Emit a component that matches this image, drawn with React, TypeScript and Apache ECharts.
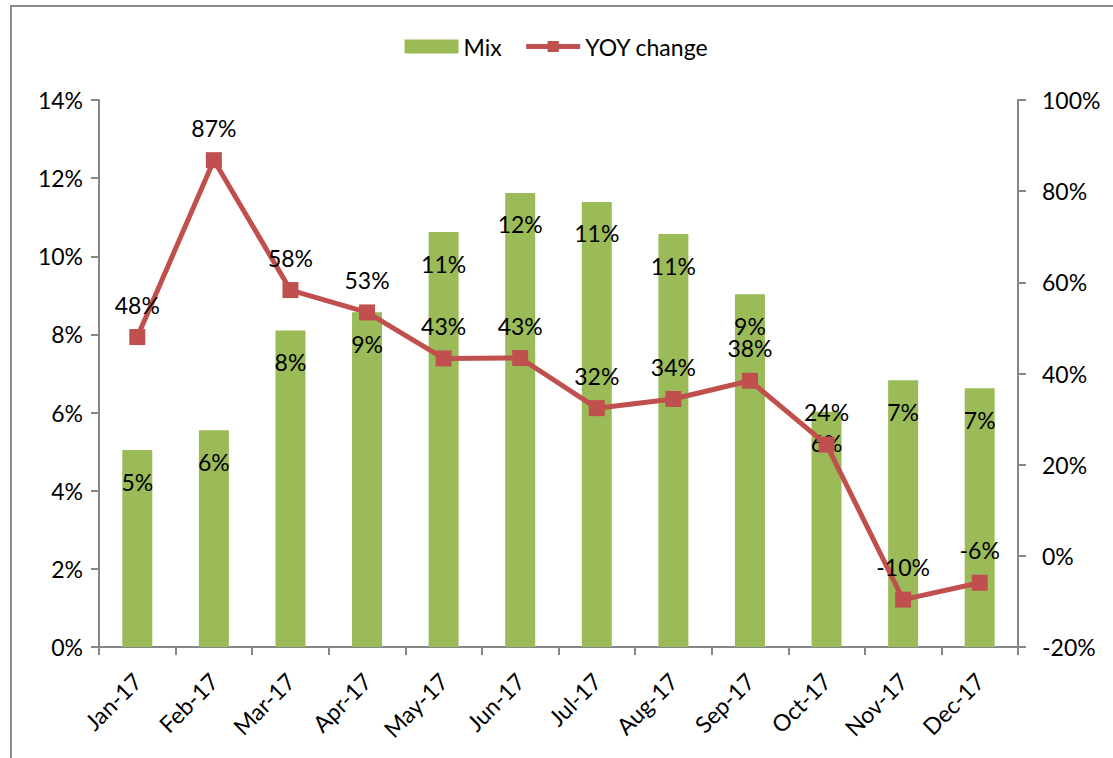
import React, { useEffect, useRef } from "react";
import * as echarts from "echarts";

const categories = ["Jan-17", "Feb-17", "Mar-17", "Apr-17", "May-17", "Jun-17", "Jul-17", "Aug-17", "Sep-17", "Oct-17", "Nov-17", "Dec-17"];
const mixValues = [5.04, 5.55, 8.1, 8.57, 10.62, 11.62, 11.39, 10.57, 9.03, 6.02, 6.83, 6.62];
const yoyValues = [48.0, 86.8, 58.3, 53.4, 43.3, 43.4, 32.4, 34.4, 38.4, 24.4, -9.6, -5.9];
const SERIES_MIX = "Mix";
const SERIES_YOY = "YOY change";

const FONT = "Lato, 'Open Sans', sans-serif";
const FS = 23;
const AXIS_COLOR = "#868686";

export default function App() {
  const ref = useRef<HTMLDivElement>(null);
  useEffect(() => {
    if (!ref.current) return;
    const chart = echarts.init(ref.current, null, { renderer: "svg" });
    const pct = (v: any) => Math.round(typeof v === "number" ? v : v.value) + "%";
    chart.setOption({
      animation: false,
      textStyle: { fontFamily: FONT, color: "#000" },
      graphic: [
        {
          type: "rect",
          shape: { x: 11, y: 6, width: 1130, height: 780 },
          style: { fill: "none", stroke: "#8c8c8c", lineWidth: 2 },
          silent: true,
        },
      ],
      legend: {
        top: 30,
        left: "center",
        itemGap: 22,
        itemWidth: 54,
        itemHeight: 14,
        textStyle: { fontFamily: FONT, fontSize: FS, color: "#000" },
        data: [
          { name: SERIES_MIX, icon: "rect" },
          { name: SERIES_YOY, lineStyle: { width: 5 } },
        ],
      },
      grid: { left: 99, right: 95, top: 100, bottom: 111, containLabel: false },
      xAxis: {
        type: "category",
        data: categories,
        boundaryGap: true,
        axisLine: { lineStyle: { color: AXIS_COLOR, width: 2 } },
        axisTick: { show: true, length: 8, lineStyle: { color: AXIS_COLOR, width: 2 } },
        axisLabel: { rotate: 45, fontSize: FS, color: "#000", fontFamily: FONT, margin: 30 },
        splitLine: { show: false },
      },
      yAxis: [
        {
          type: "value",
          min: 0,
          max: 14,
          interval: 2,
          position: "left",
          axisLine: { show: true, lineStyle: { color: AXIS_COLOR, width: 2 } },
          axisTick: { show: true, length: 8, lineStyle: { color: AXIS_COLOR, width: 2 } },
          axisLabel: { formatter: "{value}%", fontSize: FS, color: "#000", fontFamily: FONT, margin: 16 },
          splitLine: { show: false },
        },
        {
          type: "value",
          min: -20,
          max: 100,
          interval: 20,
          position: "right",
          axisLine: { show: true, lineStyle: { color: AXIS_COLOR, width: 2 } },
          axisTick: { show: true, length: 8, lineStyle: { color: AXIS_COLOR, width: 2 } },
          axisLabel: { formatter: "{value}%", fontSize: FS, color: "#000", fontFamily: FONT, margin: 24 },
          splitLine: { show: false },
        },
      ],
      series: [
        {
          name: SERIES_MIX,
          type: "bar",
          yAxisIndex: 0,
          data: mixValues,
          barWidth: 30,
          itemStyle: { color: "#9BBB59" },
          label: {
            show: true,
            position: "insideTop",
            distance: 20,
            formatter: (p: any) => pct(p.value),
            fontSize: FS,
            color: "#000",
            fontFamily: FONT,
          },
        },
        {
          name: SERIES_YOY,
          type: "line",
          yAxisIndex: 1,
          data: yoyValues,
          symbol: "rect",
          symbolSize: 16,
          lineStyle: { color: "#C0504D", width: 5 },
          itemStyle: { color: "#C0504D" },
          label: {
            show: true,
            position: "top",
            distance: 13,
            formatter: (p: any) => pct(p.value),
            fontSize: FS,
            color: "#000",
            fontFamily: FONT,
          },
          z: 3,
        },
      ],
    });
    return () => chart.dispose();
  }, []);
  return <div ref={ref} style={{ width: 1113, height: 758, position: "absolute", left: 0, top: 0 }} />;
}
